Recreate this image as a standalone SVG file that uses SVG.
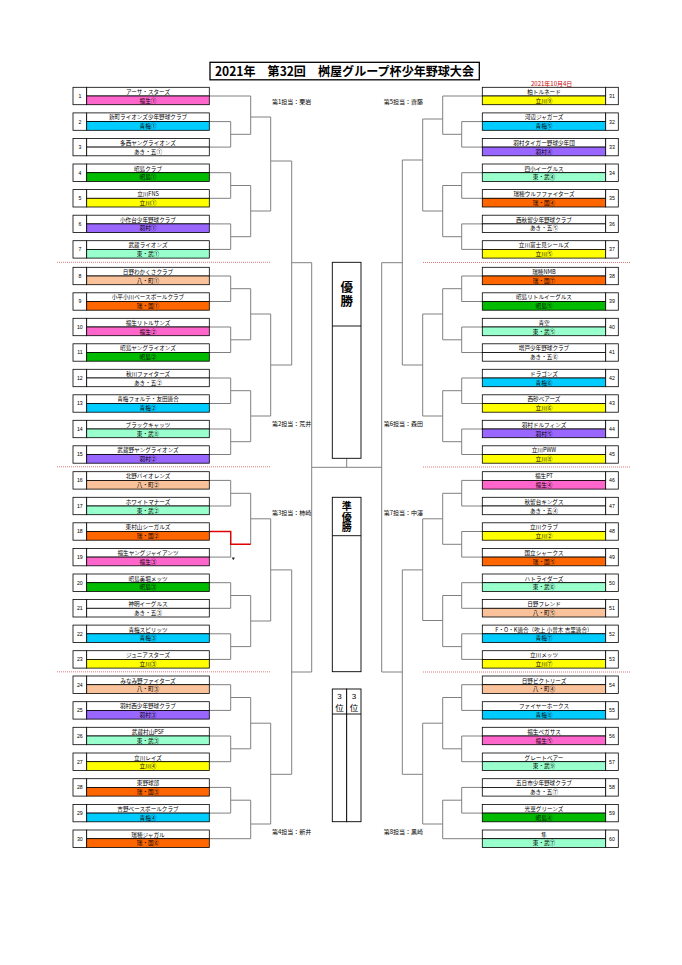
<svg xmlns="http://www.w3.org/2000/svg" width="682" height="965" viewBox="0 0 682 965">
<style>
.b{fill:#fff;stroke:#000;stroke-width:0.8}
.t{font-family:"Noto Sans CJK JP","Noto Sans",sans-serif;font-size:5.6px;text-anchor:middle;fill:#000}
.n{font-family:"Liberation Sans","Noto Sans",sans-serif;font-size:5.2px;text-anchor:middle;fill:#000}
.lab{font-family:"Noto Sans CJK JP","Noto Sans",sans-serif;font-size:6px;fill:#000}
.fu{fill:#FF66CC}.om{fill:#00CCFF}.w{fill:#FFFFFF}.ak{fill:#00BB00}.ta{fill:#FFFF00}.ha{fill:#9966FF}.hm{fill:#99FFCC}.hc{fill:#F9C29A}.mz{fill:#FF6600}
.br{fill:none;stroke:#808080;stroke-width:1}
.red{fill:none;stroke:#E00000;stroke-width:1.4}
.dot{fill:none;stroke:#CC4444;stroke-width:0.7;stroke-dasharray:1 1}
.cb{fill:#fff;stroke:#000;stroke-width:0.9}
.ct{font-family:"Noto Sans CJK JP","Noto Sans",sans-serif;font-weight:bold;fill:#000;writing-mode:vertical-rl}
</style>

<g id="title">
<rect x="210" y="62.3" width="269.3" height="17.5" fill="#fff" stroke="#000" stroke-width="1.3"/>
<text x="215" y="75.5" font-family="'Noto Sans CJK JP','Noto Sans',sans-serif" font-weight="bold" font-size="12.5" textLength="259" lengthAdjust="spacingAndGlyphs">2021年　第32回　桝屋グループ杯少年野球大会</text>
</g>
<text id="date" x="551.7" y="85.5" font-family="'Noto Sans CJK JP','Noto Sans',sans-serif" font-size="6" fill="#CC0000" text-anchor="middle">2021年10月4日</text>

<g id="separators">
<path class="dot" d="M57,262.3H270.7M57,466.8H270.7M57,671.8H270.7M423,262.5H630M423,467H630M423,672H630"/>
</g>

<g id="connectors">
<path class="br" d="M209.3,96H250.7M209.3,121.6H230.7V147.1H209.3M230.7,134.3H250.7M250.7,96V134.3M250.7,117H270.7"/>
<path class="br" d="M209.3,172.7H230.7V198.3H209.3M230.7,185.5H250.7M209.3,223.9H230.7V249.4H209.3M230.7,236.7H250.7M250.7,185.5V236.7M250.7,211H270.7M270.7,117V211M270.7,161H291.7"/>
<path class="br" d="M209.3,276H230.7V301.5H209.3M230.7,288.7H250.7M209.3,327H230.7V352.5H209.3M230.7,339.8H250.7M250.7,288.7V339.8M250.7,314H270.7"/>
<path class="br" d="M209.3,378H230.7V403.5H209.3M230.7,390.7H250.7M209.3,429H230.7V454.5H209.3M230.7,441.7H250.7M250.7,390.7V441.7M250.7,416H270.7M270.7,314V416M270.7,365H291.7"/>
<path class="br" d="M291.7,161V365M291.7,262.7H311.7"/>
<path class="br" d="M209.3,480.4H230.7V506H209.3M230.7,493.3H250.7M209.3,557.1H230.7V531.5M250.7,493.3V544.3M250.7,518.8H270.7"/>
<path class="br" d="M209.3,582.7H230.7V608.3H209.3M230.7,595.5H250.7M209.3,633.8H230.7V659.4H209.3M230.7,646.6H250.7M250.7,595.5V646.6M250.7,621H270.7M270.7,518.8V621M270.7,569.9H291.7"/>
<path class="red" d="M209.3,531.5H230.7V544.3H250.7"/>
<path class="br" d="M209.3,684.7H230.7V710.4H209.3M230.7,697.5H250.7M209.3,736H230.7V761.7H209.3M230.7,748.8H250.7M250.7,697.5V748.8M250.7,723.2H270.7"/>
<path class="br" d="M209.3,787.4H230.7V813.1H209.3M230.7,800.2H250.7M209.3,838.7H250.7M250.7,800.2V838.7M250.7,824H270.7M270.7,723.2V824M270.7,774.3H291.7"/>
<path class="br" d="M291.7,569.9V774.3M291.7,672H311.7M311.7,262.7V672M311.7,467.3H381.7M346.7,458.3V467.3"/>
<path class="br" d="M482.3,96H442.7M482.3,121.6H461.7V147.1H482.3M461.7,134.3H442.7M442.7,96V134.3M442.7,119H422.7"/>
<path class="br" d="M482.3,172.7H461.7V198.3H482.3M461.7,185.5H442.7M482.3,223.9H461.7V249.4H482.3M461.7,236.7H442.7M442.7,185.5V236.7M442.7,211H422.7M422.7,119V211M422.7,160H402.3"/>
<path class="br" d="M482.3,276H461.7V301.5H482.3M461.7,288.7H442.7M482.3,327H461.7V352.5H482.3M461.7,339.8H442.7M442.7,288.7V339.8M442.7,314H422.7"/>
<path class="br" d="M482.3,378H461.7V403.5H482.3M461.7,390.7H442.7M482.3,429H461.7V454.5H482.3M461.7,441.7H442.7M442.7,390.7V441.7M442.7,416H422.7M422.7,314V416M422.7,365H402.3"/>
<path class="br" d="M402.3,160V365M402.3,262.7H381.7"/>
<path class="br" d="M482.3,480.4H461.7V506H482.3M461.7,493.3H442.7M482.3,531.5H461.7V557.1H482.3M461.7,544.3H442.7M442.7,493.3V544.3M442.7,518.8H422.7"/>
<path class="br" d="M482.3,582.7H461.7V608.3H482.3M461.7,595.5H442.7M482.3,633.8H461.7V659.4H482.3M461.7,646.6H442.7M442.7,595.5V646.6M442.7,620.5H422.7M422.7,518.8V620.5M422.7,569.9H402.3"/>
<path class="br" d="M482.3,684.7H461.7V710.4H482.3M461.7,697.5H442.7M482.3,736H461.7V761.7H482.3M461.7,748.8H442.7M442.7,697.5V748.8M442.7,723.2H422.7"/>
<path class="br" d="M482.3,787.4H461.7V813.1H482.3M461.7,800.2H442.7M482.3,838.7H442.7M442.7,800.2V838.7M442.7,824H422.7M422.7,723.2V824M422.7,774.3H402.3"/>
<path class="br" d="M402.3,569.9V774.3M402.3,672H381.7M381.7,262.7V672"/>
<polygon points="231.7,557.6 234.9,557.6 233.3,560.2" fill="#222"/>
</g>

<g id="champion">
<rect class="cb" x="332.3" y="262.3" width="28.7" height="196"/>
<line x1="332.3" y1="326" x2="361" y2="326" stroke="#000" stroke-width="0.9"/>
<text class="ct" x="346.7" y="281" font-size="12.5" letter-spacing="1">優勝</text>
</g>
<g id="runnerup">
<rect class="cb" x="332.3" y="497.3" width="28.7" height="174.4"/>
<line x1="332.3" y1="535.7" x2="361" y2="535.7" stroke="#000" stroke-width="0.9"/>
<text class="ct" x="346.7" y="501.5" font-size="10" letter-spacing="0.6">準優勝</text>
</g>
<g id="third-a">
<rect class="cb" x="332.3" y="689" width="14.4" height="132.7"/>
<line x1="332.3" y1="714" x2="346.7" y2="714" stroke="#000" stroke-width="0.9"/>
<text x="339.5" y="699" font-family="'Liberation Sans',sans-serif" font-size="8" text-anchor="middle">3</text>
<text x="339.5" y="710.5" font-family="'Noto Sans CJK JP',sans-serif" font-size="8.5" text-anchor="middle">位</text>
</g>
<g id="third-b">
<rect class="cb" x="346.7" y="689" width="14.3" height="132.7"/>
<line x1="346.7" y1="714" x2="361" y2="714" stroke="#000" stroke-width="0.9"/>
<text x="353.9" y="699" font-family="'Liberation Sans',sans-serif" font-size="8" text-anchor="middle">3</text>
<text x="353.9" y="710.5" font-family="'Noto Sans CJK JP',sans-serif" font-size="8.5" text-anchor="middle">位</text>
</g>

<g id="labels">
<text class="lab" x="272" y="104">第1担当：栗岩</text>
<text class="lab" x="272" y="426.3">第2担当：荒井</text>
<text class="lab" x="272" y="514.5">第3担当：柿崎</text>
<text class="lab" x="272" y="834">第4担当：新井</text>
<text class="lab" x="423" y="104" text-anchor="end">第5担当：齋藤</text>
<text class="lab" x="423" y="426.3" text-anchor="end">第6担当：森田</text>
<text class="lab" x="423" y="514.5" text-anchor="end">第7担当：中澤</text>
<text class="lab" x="423" y="834" text-anchor="end">第8担当：黒崎</text>
</g>

<g id="team-1" transform="translate(73,87.3)"><rect class="b" width="13.7" height="17.4"/><rect class="b" x="13.7" width="122.6" height="8.7"/><rect class="b fu" x="13.7" y="8.7" width="122.6" height="8.7"/><text class="n" x="6.85" y="10.7">1</text><text class="t" x="75" y="6.6">アーサ・スターズ</text><text class="t" x="75" y="15.3">福生①</text></g>
<g id="team-2" transform="translate(73,112.9)"><rect class="b" width="13.7" height="17.4"/><rect class="b" x="13.7" width="122.6" height="8.7"/><rect class="b om" x="13.7" y="8.7" width="122.6" height="8.7"/><text class="n" x="6.85" y="10.7">2</text><text class="t" x="75" y="6.6">新町ライオンズ少年野球クラブ</text><text class="t" x="75" y="15.3">青梅①</text></g>
<g id="team-3" transform="translate(73,138.4)"><rect class="b" width="13.7" height="17.4"/><rect class="b" x="13.7" width="122.6" height="8.7"/><rect class="b w" x="13.7" y="8.7" width="122.6" height="8.7"/><text class="n" x="6.85" y="10.7">3</text><text class="t" x="75" y="6.6">多西ヤングライオンズ</text><text class="t" x="75" y="15.3">あき・五①</text></g>
<g id="team-4" transform="translate(73,164)"><rect class="b" width="13.7" height="17.4"/><rect class="b" x="13.7" width="122.6" height="8.7"/><rect class="b ak" x="13.7" y="8.7" width="122.6" height="8.7"/><text class="n" x="6.85" y="10.7">4</text><text class="t" x="75" y="6.6">昭島クラブ</text><text class="t" x="75" y="15.3">昭島①</text></g>
<g id="team-5" transform="translate(73,189.6)"><rect class="b" width="13.7" height="17.4"/><rect class="b" x="13.7" width="122.6" height="8.7"/><rect class="b ta" x="13.7" y="8.7" width="122.6" height="8.7"/><text class="n" x="6.85" y="10.7">5</text><text class="t" x="75" y="6.6">立川FNS</text><text class="t" x="75" y="15.3">立川①</text></g>
<g id="team-6" transform="translate(73,215.2)"><rect class="b" width="13.7" height="17.4"/><rect class="b" x="13.7" width="122.6" height="8.7"/><rect class="b ha" x="13.7" y="8.7" width="122.6" height="8.7"/><text class="n" x="6.85" y="10.7">6</text><text class="t" x="75" y="6.6">小作台少年野球クラブ</text><text class="t" x="75" y="15.3">羽村①</text></g>
<g id="team-7" transform="translate(73,240.7)"><rect class="b" width="13.7" height="17.4"/><rect class="b" x="13.7" width="122.6" height="8.7"/><rect class="b hm" x="13.7" y="8.7" width="122.6" height="8.7"/><text class="n" x="6.85" y="10.7">7</text><text class="t" x="75" y="6.6">武蔵ライオンズ</text><text class="t" x="75" y="15.3">東・武①</text></g>
<g id="team-8" transform="translate(73,267.3)"><rect class="b" width="13.7" height="17.4"/><rect class="b" x="13.7" width="122.6" height="8.7"/><rect class="b hc" x="13.7" y="8.7" width="122.6" height="8.7"/><text class="n" x="6.85" y="10.7">8</text><text class="t" x="75" y="6.6">日野わかくさクラブ</text><text class="t" x="75" y="15.3">八・町①</text></g>
<g id="team-9" transform="translate(73,292.8)"><rect class="b" width="13.7" height="17.4"/><rect class="b" x="13.7" width="122.6" height="8.7"/><rect class="b mz" x="13.7" y="8.7" width="122.6" height="8.7"/><text class="n" x="6.85" y="10.7">9</text><text class="t" x="75" y="6.6">小平小川ベースボールクラブ</text><text class="t" x="75" y="15.3">瑞・国①</text></g>
<g id="team-10" transform="translate(73,318.3)"><rect class="b" width="13.7" height="17.4"/><rect class="b" x="13.7" width="122.6" height="8.7"/><rect class="b fu" x="13.7" y="8.7" width="122.6" height="8.7"/><text class="n" x="6.85" y="10.7">10</text><text class="t" x="75" y="6.6">福生リトルサンズ</text><text class="t" x="75" y="15.3">福生②</text></g>
<g id="team-11" transform="translate(73,343.8)"><rect class="b" width="13.7" height="17.4"/><rect class="b" x="13.7" width="122.6" height="8.7"/><rect class="b ak" x="13.7" y="8.7" width="122.6" height="8.7"/><text class="n" x="6.85" y="10.7">11</text><text class="t" x="75" y="6.6">昭島ヤングライオンズ</text><text class="t" x="75" y="15.3">昭島②</text></g>
<g id="team-12" transform="translate(73,369.3)"><rect class="b" width="13.7" height="17.4"/><rect class="b" x="13.7" width="122.6" height="8.7"/><rect class="b w" x="13.7" y="8.7" width="122.6" height="8.7"/><text class="n" x="6.85" y="10.7">12</text><text class="t" x="75" y="6.6">秋川ファイターズ</text><text class="t" x="75" y="15.3">あき・五②</text></g>
<g id="team-13" transform="translate(73,394.8)"><rect class="b" width="13.7" height="17.4"/><rect class="b" x="13.7" width="122.6" height="8.7"/><rect class="b om" x="13.7" y="8.7" width="122.6" height="8.7"/><text class="n" x="6.85" y="10.7">13</text><text class="t" x="75" y="6.6">青梅フォルテ・友田連合</text><text class="t" x="75" y="15.3">青梅②</text></g>
<g id="team-14" transform="translate(73,420.3)"><rect class="b" width="13.7" height="17.4"/><rect class="b" x="13.7" width="122.6" height="8.7"/><rect class="b hm" x="13.7" y="8.7" width="122.6" height="8.7"/><text class="n" x="6.85" y="10.7">14</text><text class="t" x="75" y="6.6">ブラックキャッツ</text><text class="t" x="75" y="15.3">東・武⑧</text></g>
<g id="team-15" transform="translate(73,445.8)"><rect class="b" width="13.7" height="17.4"/><rect class="b" x="13.7" width="122.6" height="8.7"/><rect class="b ha" x="13.7" y="8.7" width="122.6" height="8.7"/><text class="n" x="6.85" y="10.7">15</text><text class="t" x="75" y="6.6">武蔵野ヤングライオンズ</text><text class="t" x="75" y="15.3">羽村②</text></g>
<g id="team-16" transform="translate(73,471.7)"><rect class="b" width="13.7" height="17.4"/><rect class="b" x="13.7" width="122.6" height="8.7"/><rect class="b hc" x="13.7" y="8.7" width="122.6" height="8.7"/><text class="n" x="6.85" y="10.7">16</text><text class="t" x="75" y="6.6">北野バイオレンズ</text><text class="t" x="75" y="15.3">八・町②</text></g>
<g id="team-17" transform="translate(73,497.3)"><rect class="b" width="13.7" height="17.4"/><rect class="b" x="13.7" width="122.6" height="8.7"/><rect class="b hm" x="13.7" y="8.7" width="122.6" height="8.7"/><text class="n" x="6.85" y="10.7">17</text><text class="t" x="75" y="6.6">ホワイトマナーズ</text><text class="t" x="75" y="15.3">東・武②</text></g>
<g id="team-18" transform="translate(73,522.8)"><rect class="b" width="13.7" height="17.4"/><rect class="b" x="13.7" width="122.6" height="8.7"/><rect class="b mz" x="13.7" y="8.7" width="122.6" height="8.7"/><text class="n" x="6.85" y="10.7">18</text><text class="t" x="75" y="6.6">東村山シーガルズ</text><text class="t" x="75" y="15.3">瑞・国②</text></g>
<g id="team-19" transform="translate(73,548.4)"><rect class="b" width="13.7" height="17.4"/><rect class="b" x="13.7" width="122.6" height="8.7"/><rect class="b fu" x="13.7" y="8.7" width="122.6" height="8.7"/><text class="n" x="6.85" y="10.7">19</text><text class="t" x="75" y="6.6">福生ヤングジャイアンツ</text><text class="t" x="75" y="15.3">福生③</text></g>
<g id="team-20" transform="translate(73,574)"><rect class="b" width="13.7" height="17.4"/><rect class="b" x="13.7" width="122.6" height="8.7"/><rect class="b ak" x="13.7" y="8.7" width="122.6" height="8.7"/><text class="n" x="6.85" y="10.7">20</text><text class="t" x="75" y="6.6">昭島美堀メッツ</text><text class="t" x="75" y="15.3">昭島③</text></g>
<g id="team-21" transform="translate(73,599.6)"><rect class="b" width="13.7" height="17.4"/><rect class="b" x="13.7" width="122.6" height="8.7"/><rect class="b w" x="13.7" y="8.7" width="122.6" height="8.7"/><text class="n" x="6.85" y="10.7">21</text><text class="t" x="75" y="6.6">神明イーグルス</text><text class="t" x="75" y="15.3">あき・五③</text></g>
<g id="team-22" transform="translate(73,625.1)"><rect class="b" width="13.7" height="17.4"/><rect class="b" x="13.7" width="122.6" height="8.7"/><rect class="b om" x="13.7" y="8.7" width="122.6" height="8.7"/><text class="n" x="6.85" y="10.7">22</text><text class="t" x="75" y="6.6">青梅スピリッツ</text><text class="t" x="75" y="15.3">青梅③</text></g>
<g id="team-23" transform="translate(73,650.7)"><rect class="b" width="13.7" height="17.4"/><rect class="b" x="13.7" width="122.6" height="8.7"/><rect class="b ta" x="13.7" y="8.7" width="122.6" height="8.7"/><text class="n" x="6.85" y="10.7">23</text><text class="t" x="75" y="6.6">ジュニアスターズ</text><text class="t" x="75" y="15.3">立川③</text></g>
<g id="team-24" transform="translate(73,676)"><rect class="b" width="13.7" height="17.4"/><rect class="b" x="13.7" width="122.6" height="8.7"/><rect class="b hc" x="13.7" y="8.7" width="122.6" height="8.7"/><text class="n" x="6.85" y="10.7">24</text><text class="t" x="75" y="6.6">みなみ野ファイターズ</text><text class="t" x="75" y="15.3">八・町③</text></g>
<g id="team-25" transform="translate(73,701.7)"><rect class="b" width="13.7" height="17.4"/><rect class="b" x="13.7" width="122.6" height="8.7"/><rect class="b ha" x="13.7" y="8.7" width="122.6" height="8.7"/><text class="n" x="6.85" y="10.7">25</text><text class="t" x="75" y="6.6">羽村西少年野球クラブ</text><text class="t" x="75" y="15.3">羽村③</text></g>
<g id="team-26" transform="translate(73,727.3)"><rect class="b" width="13.7" height="17.4"/><rect class="b" x="13.7" width="122.6" height="8.7"/><rect class="b hm" x="13.7" y="8.7" width="122.6" height="8.7"/><text class="n" x="6.85" y="10.7">26</text><text class="t" x="75" y="6.6">武蔵村山PSF</text><text class="t" x="75" y="15.3">東・武③</text></g>
<g id="team-27" transform="translate(73,753)"><rect class="b" width="13.7" height="17.4"/><rect class="b" x="13.7" width="122.6" height="8.7"/><rect class="b ta" x="13.7" y="8.7" width="122.6" height="8.7"/><text class="n" x="6.85" y="10.7">27</text><text class="t" x="75" y="6.6">立川レイズ</text><text class="t" x="75" y="15.3">立川④</text></g>
<g id="team-28" transform="translate(73,778.7)"><rect class="b" width="13.7" height="17.4"/><rect class="b" x="13.7" width="122.6" height="8.7"/><rect class="b mz" x="13.7" y="8.7" width="122.6" height="8.7"/><text class="n" x="6.85" y="10.7">28</text><text class="t" x="75" y="6.6">東野球部</text><text class="t" x="75" y="15.3">瑞・国③</text></g>
<g id="team-29" transform="translate(73,804.4)"><rect class="b" width="13.7" height="17.4"/><rect class="b" x="13.7" width="122.6" height="8.7"/><rect class="b om" x="13.7" y="8.7" width="122.6" height="8.7"/><text class="n" x="6.85" y="10.7">29</text><text class="t" x="75" y="6.6">吉野ベースボールクラブ</text><text class="t" x="75" y="15.3">青梅④</text></g>
<g id="team-30" transform="translate(73,830)"><rect class="b" width="13.7" height="17.4"/><rect class="b" x="13.7" width="122.6" height="8.7"/><rect class="b mz" x="13.7" y="8.7" width="122.6" height="8.7"/><text class="n" x="6.85" y="10.7">30</text><text class="t" x="75" y="6.6">瑞穂ジャガル</text><text class="t" x="75" y="15.3">瑞・国⑥</text></g>

<g id="team-31" transform="translate(482.3,87.3)"><rect class="b" width="123.4" height="8.7"/><rect class="b ta" y="8.7" width="123.4" height="8.7"/><rect class="b" x="123.4" width="12.6" height="17.4"/><text class="n" x="129.7" y="10.7">31</text><text class="t" x="61.7" y="6.6">柏トルネード</text><text class="t" x="61.7" y="15.3">立川⑨</text></g>
<g id="team-32" transform="translate(482.3,112.9)"><rect class="b" width="123.4" height="8.7"/><rect class="b om" y="8.7" width="123.4" height="8.7"/><rect class="b" x="123.4" width="12.6" height="17.4"/><text class="n" x="129.7" y="10.7">32</text><text class="t" x="61.7" y="6.6">河辺ジャガーズ</text><text class="t" x="61.7" y="15.3">青梅⑤</text></g>
<g id="team-33" transform="translate(482.3,138.4)"><rect class="b" width="123.4" height="8.7"/><rect class="b ha" y="8.7" width="123.4" height="8.7"/><rect class="b" x="123.4" width="12.6" height="17.4"/><text class="n" x="129.7" y="10.7">33</text><text class="t" x="61.7" y="6.6">羽村タイガー野球少年団</text><text class="t" x="61.7" y="15.3">羽村④</text></g>
<g id="team-34" transform="translate(482.3,164)"><rect class="b" width="123.4" height="8.7"/><rect class="b hm" y="8.7" width="123.4" height="8.7"/><rect class="b" x="123.4" width="12.6" height="17.4"/><text class="n" x="129.7" y="10.7">34</text><text class="t" x="61.7" y="6.6">四小イーグルス</text><text class="t" x="61.7" y="15.3">東・武④</text></g>
<g id="team-35" transform="translate(482.3,189.6)"><rect class="b" width="123.4" height="8.7"/><rect class="b mz" y="8.7" width="123.4" height="8.7"/><rect class="b" x="123.4" width="12.6" height="17.4"/><text class="n" x="129.7" y="10.7">35</text><text class="t" x="61.7" y="6.6">瑞穂ウルフファイターズ</text><text class="t" x="61.7" y="15.3">瑞・国④</text></g>
<g id="team-36" transform="translate(482.3,215.2)"><rect class="b" width="123.4" height="8.7"/><rect class="b w" y="8.7" width="123.4" height="8.7"/><rect class="b" x="123.4" width="12.6" height="17.4"/><text class="n" x="129.7" y="10.7">36</text><text class="t" x="61.7" y="6.6">西秋留少年野球クラブ</text><text class="t" x="61.7" y="15.3">あき・五⑤</text></g>
<g id="team-37" transform="translate(482.3,240.7)"><rect class="b" width="123.4" height="8.7"/><rect class="b ta" y="8.7" width="123.4" height="8.7"/><rect class="b" x="123.4" width="12.6" height="17.4"/><text class="n" x="129.7" y="10.7">37</text><text class="t" x="61.7" y="6.6">立川富士見シールズ</text><text class="t" x="61.7" y="15.3">立川⑤</text></g>
<g id="team-38" transform="translate(482.3,267.3)"><rect class="b" width="123.4" height="8.7"/><rect class="b mz" y="8.7" width="123.4" height="8.7"/><rect class="b" x="123.4" width="12.6" height="17.4"/><text class="n" x="129.7" y="10.7">38</text><text class="t" x="61.7" y="6.6">瑞穂NMB</text><text class="t" x="61.7" y="15.3">瑞・国⑦</text></g>
<g id="team-39" transform="translate(482.3,292.8)"><rect class="b" width="123.4" height="8.7"/><rect class="b ak" y="8.7" width="123.4" height="8.7"/><rect class="b" x="123.4" width="12.6" height="17.4"/><text class="n" x="129.7" y="10.7">39</text><text class="t" x="61.7" y="6.6">昭島リトルイーグルス</text><text class="t" x="61.7" y="15.3">昭島⑤</text></g>
<g id="team-40" transform="translate(482.3,318.3)"><rect class="b" width="123.4" height="8.7"/><rect class="b hm" y="8.7" width="123.4" height="8.7"/><rect class="b" x="123.4" width="12.6" height="17.4"/><text class="n" x="129.7" y="10.7">40</text><text class="t" x="61.7" y="6.6">青空</text><text class="t" x="61.7" y="15.3">東・武⑤</text></g>
<g id="team-41" transform="translate(482.3,343.8)"><rect class="b" width="123.4" height="8.7"/><rect class="b w" y="8.7" width="123.4" height="8.7"/><rect class="b" x="123.4" width="12.6" height="17.4"/><text class="n" x="129.7" y="10.7">41</text><text class="t" x="61.7" y="6.6">増戸少年野球クラブ</text><text class="t" x="61.7" y="15.3">あき・五⑥</text></g>
<g id="team-42" transform="translate(482.3,369.3)"><rect class="b" width="123.4" height="8.7"/><rect class="b om" y="8.7" width="123.4" height="8.7"/><rect class="b" x="123.4" width="12.6" height="17.4"/><text class="n" x="129.7" y="10.7">42</text><text class="t" x="61.7" y="6.6">ドラゴンズ</text><text class="t" x="61.7" y="15.3">青梅⑥</text></g>
<g id="team-43" transform="translate(482.3,394.8)"><rect class="b" width="123.4" height="8.7"/><rect class="b ta" y="8.7" width="123.4" height="8.7"/><rect class="b" x="123.4" width="12.6" height="17.4"/><text class="n" x="129.7" y="10.7">43</text><text class="t" x="61.7" y="6.6">西砂ベアーズ</text><text class="t" x="61.7" y="15.3">立川⑥</text></g>
<g id="team-44" transform="translate(482.3,420.3)"><rect class="b" width="123.4" height="8.7"/><rect class="b ha" y="8.7" width="123.4" height="8.7"/><rect class="b" x="123.4" width="12.6" height="17.4"/><text class="n" x="129.7" y="10.7">44</text><text class="t" x="61.7" y="6.6">羽村ドルフィンズ</text><text class="t" x="61.7" y="15.3">羽村⑤</text></g>
<g id="team-45" transform="translate(482.3,445.8)"><rect class="b" width="123.4" height="8.7"/><rect class="b ta" y="8.7" width="123.4" height="8.7"/><rect class="b" x="123.4" width="12.6" height="17.4"/><text class="n" x="129.7" y="10.7">45</text><text class="t" x="61.7" y="6.6">立川PWW</text><text class="t" x="61.7" y="15.3">立川⑧</text></g>
<g id="team-46" transform="translate(482.3,471.7)"><rect class="b" width="123.4" height="8.7"/><rect class="b fu" y="8.7" width="123.4" height="8.7"/><rect class="b" x="123.4" width="12.6" height="17.4"/><text class="n" x="129.7" y="10.7">46</text><text class="t" x="61.7" y="6.6">福生PT</text><text class="t" x="61.7" y="15.3">福生④</text></g>
<g id="team-47" transform="translate(482.3,497.3)"><rect class="b" width="123.4" height="8.7"/><rect class="b w" y="8.7" width="123.4" height="8.7"/><rect class="b" x="123.4" width="12.6" height="17.4"/><text class="n" x="129.7" y="10.7">47</text><text class="t" x="61.7" y="6.6">秋留台キングス</text><text class="t" x="61.7" y="15.3">あき・五④</text></g>
<g id="team-48" transform="translate(482.3,522.8)"><rect class="b" width="123.4" height="8.7"/><rect class="b ta" y="8.7" width="123.4" height="8.7"/><rect class="b" x="123.4" width="12.6" height="17.4"/><text class="n" x="129.7" y="10.7">48</text><text class="t" x="61.7" y="6.6">立川クラブ</text><text class="t" x="61.7" y="15.3">立川②</text></g>
<g id="team-49" transform="translate(482.3,548.4)"><rect class="b" width="123.4" height="8.7"/><rect class="b mz" y="8.7" width="123.4" height="8.7"/><rect class="b" x="123.4" width="12.6" height="17.4"/><text class="n" x="129.7" y="10.7">49</text><text class="t" x="61.7" y="6.6">国立シャークス</text><text class="t" x="61.7" y="15.3">瑞・国⑤</text></g>
<g id="team-50" transform="translate(482.3,574)"><rect class="b" width="123.4" height="8.7"/><rect class="b hm" y="8.7" width="123.4" height="8.7"/><rect class="b" x="123.4" width="12.6" height="17.4"/><text class="n" x="129.7" y="10.7">50</text><text class="t" x="61.7" y="6.6">ハトライダーズ</text><text class="t" x="61.7" y="15.3">東・武⑥</text></g>
<g id="team-51" transform="translate(482.3,599.6)"><rect class="b" width="123.4" height="8.7"/><rect class="b hc" y="8.7" width="123.4" height="8.7"/><rect class="b" x="123.4" width="12.6" height="17.4"/><text class="n" x="129.7" y="10.7">51</text><text class="t" x="61.7" y="6.6">日野フレンド</text><text class="t" x="61.7" y="15.3">八・町⑤</text></g>
<g id="team-52" transform="translate(482.3,625.1)"><rect class="b" width="123.4" height="8.7"/><rect class="b om" y="8.7" width="123.4" height="8.7"/><rect class="b" x="123.4" width="12.6" height="17.4"/><text class="n" x="129.7" y="10.7">52</text><text class="t" x="61.7" y="6.6">F・O・K連合（吹上 小曽木 吉里連合）</text><text class="t" x="61.7" y="15.3">青梅⑦</text></g>
<g id="team-53" transform="translate(482.3,650.7)"><rect class="b" width="123.4" height="8.7"/><rect class="b ta" y="8.7" width="123.4" height="8.7"/><rect class="b" x="123.4" width="12.6" height="17.4"/><text class="n" x="129.7" y="10.7">53</text><text class="t" x="61.7" y="6.6">立川メッツ</text><text class="t" x="61.7" y="15.3">立川⑦</text></g>
<g id="team-54" transform="translate(482.3,676)"><rect class="b" width="123.4" height="8.7"/><rect class="b hc" y="8.7" width="123.4" height="8.7"/><rect class="b" x="123.4" width="12.6" height="17.4"/><text class="n" x="129.7" y="10.7">54</text><text class="t" x="61.7" y="6.6">日野ビクトリーズ</text><text class="t" x="61.7" y="15.3">八・町④</text></g>
<g id="team-55" transform="translate(482.3,701.7)"><rect class="b" width="123.4" height="8.7"/><rect class="b om" y="8.7" width="123.4" height="8.7"/><rect class="b" x="123.4" width="12.6" height="17.4"/><text class="n" x="129.7" y="10.7">55</text><text class="t" x="61.7" y="6.6">ファイヤーホークス</text><text class="t" x="61.7" y="15.3">青梅⑧</text></g>
<g id="team-56" transform="translate(482.3,727.3)"><rect class="b" width="123.4" height="8.7"/><rect class="b fu" y="8.7" width="123.4" height="8.7"/><rect class="b" x="123.4" width="12.6" height="17.4"/><text class="n" x="129.7" y="10.7">56</text><text class="t" x="61.7" y="6.6">福生ペガサス</text><text class="t" x="61.7" y="15.3">福生⑤</text></g>
<g id="team-57" transform="translate(482.3,753)"><rect class="b" width="123.4" height="8.7"/><rect class="b hm" y="8.7" width="123.4" height="8.7"/><rect class="b" x="123.4" width="12.6" height="17.4"/><text class="n" x="129.7" y="10.7">57</text><text class="t" x="61.7" y="6.6">グレートベアー</text><text class="t" x="61.7" y="15.3">東・武⑨</text></g>
<g id="team-58" transform="translate(482.3,778.7)"><rect class="b" width="123.4" height="8.7"/><rect class="b w" y="8.7" width="123.4" height="8.7"/><rect class="b" x="123.4" width="12.6" height="17.4"/><text class="n" x="129.7" y="10.7">58</text><text class="t" x="61.7" y="6.6">五日市少年野球クラブ</text><text class="t" x="61.7" y="15.3">あき・五⑦</text></g>
<g id="team-59" transform="translate(482.3,804.4)"><rect class="b" width="123.4" height="8.7"/><rect class="b ak" y="8.7" width="123.4" height="8.7"/><rect class="b" x="123.4" width="12.6" height="17.4"/><text class="n" x="129.7" y="10.7">59</text><text class="t" x="61.7" y="6.6">光華グリーンズ</text><text class="t" x="61.7" y="15.3">昭島④</text></g>
<g id="team-60" transform="translate(482.3,830)"><rect class="b" width="123.4" height="8.7"/><rect class="b hm" y="8.7" width="123.4" height="8.7"/><rect class="b" x="123.4" width="12.6" height="17.4"/><text class="n" x="129.7" y="10.7">60</text><text class="t" x="61.7" y="6.6">隼</text><text class="t" x="61.7" y="15.3">東・武⑦</text></g>
</svg>
